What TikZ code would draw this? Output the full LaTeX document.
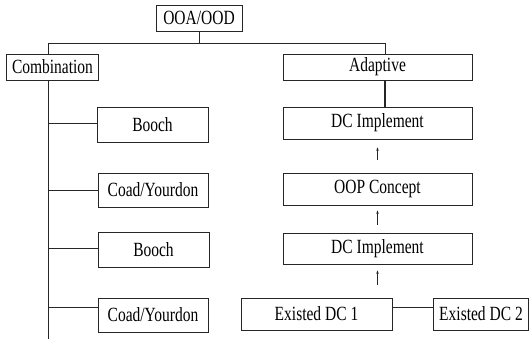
\documentclass[tikz,border=0pt]{standalone}
\usepackage{fontspec}
\usepackage{graphicx}
\setmainfont{Liberation Serif}
\usetikzlibrary{calc,arrows.meta}
\newcommand{\boxtext}[1]{\scalebox{1}[1.3]{#1}}
\tikzset{
  box/.style={draw=black!85, line width=0.7pt, inner sep=0pt, font=\fontsize{15.5}{18}\selectfont},
  wire/.style={draw=black!85, line width=0.6pt},
  uparrow/.style={draw=black!85, line width=0.6pt, -{Stealth[length=3.5pt,width=2.5pt]}}
}
\begin{document}
\begin{tikzpicture}[x=1pt,y=-1pt]
\useasboundingbox (0,0) rectangle (531,339);
% nodes
\node[box, minimum width=86pt, minimum height=26pt] (ooa) at (199,18) {\boxtext{OOA/OOD}};
\node[box, minimum width=92pt, minimum height=26pt] (comb) at (52.5,67) {\boxtext{Combination}};
\node[box, minimum width=189pt, minimum height=26pt] (adapt) at (377.5,67) {\boxtext{Adaptive}};
\node[box, minimum width=111pt, minimum height=35pt] (booch1) at (152.5,124.5) {\boxtext{Booch}};
\node[box, minimum width=110pt, minimum height=34pt] (coad1) at (153,190) {\boxtext{Coad/Yourdon}};
\node[box, minimum width=111pt, minimum height=35pt] (booch2) at (153.5,249.5) {\boxtext{Booch}};
\node[box, minimum width=110pt, minimum height=34pt] (coad2) at (153,315) {\boxtext{Coad/Yourdon}};
\node[box, minimum width=189pt, minimum height=32pt] (dc1) at (377.5,123) {\boxtext{DC Implement}};
\node[box, minimum width=189pt, minimum height=32pt] (oop) at (377.5,189) {\boxtext{OOP Concept}};
\node[box, minimum width=189pt, minimum height=31pt] (dc2) at (377.5,248.5) {\boxtext{DC Implement}};
\node[box, minimum width=151pt, minimum height=32pt] (ex1) at (316.5,314) {\boxtext{Existed DC 1}};
\node[box, minimum width=95pt, minimum height=32pt] (ex2) at (481,314) {\boxtext{Existed DC 2}};
% helper coordinates
\coordinate (hl) at (48,43);
\coordinate (hr) at (385,43);
\coordinate (trunkbot) at (48,339);
% top tree
\draw[wire] (ooa.south) -- (ooa.south |- hl);
\draw[wire] (comb.north -| hl) -- (hl) -- (hr) -- (adapt.north -| hr);
\draw[draw=black!85, line width=1.1pt] (adapt.south -| hr) -- (dc1.north -| hr);
% combination trunk and branches
\draw[wire] (comb.south -| trunkbot) -- (trunkbot);
\draw[wire] (trunkbot |- {$(booch1.west)+(0,-1)$}) -- ($(booch1.west)+(0,-1)$);
\draw[wire] (trunkbot |- coad1.west) -- (coad1.west);
\draw[wire] (trunkbot |- {$(booch2.west)+(0,-1)$}) -- ($(booch2.west)+(0,-1)$);
\draw[wire] (trunkbot |- {$(coad2.west)+(0,-8)$}) -- ($(coad2.west)+(0,-8)$);
% adaptive chain arrows
\draw[uparrow, shorten <=13pt, shorten >=8pt] (oop.north) -- (dc1.south);
\draw[uparrow, shorten <=8pt, shorten >=5pt] (dc2.north) -- (oop.south);
\draw[uparrow, shorten <=13pt, shorten >=6pt] (ex1.north -| dc2.south) -- (dc2.south);
% existed link
\draw[wire] ($(ex1.east)+(0,-7)$) -- ($(ex2.west)+(0,-7)$);
\end{tikzpicture}
\end{document}
